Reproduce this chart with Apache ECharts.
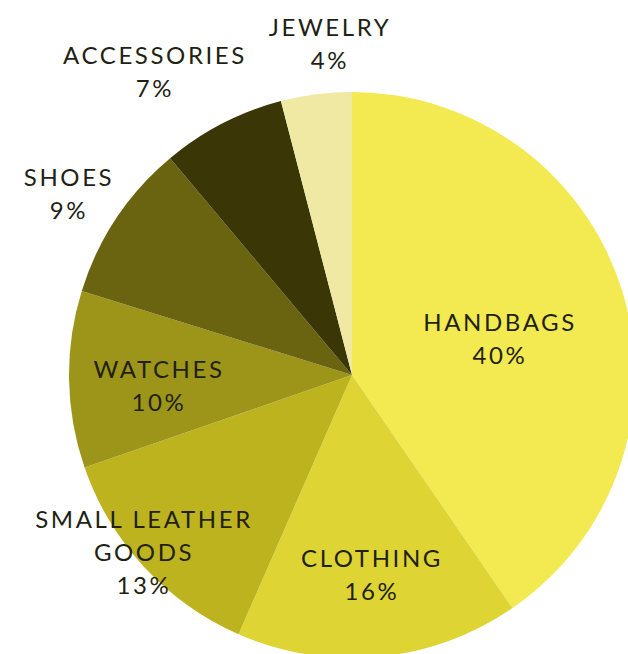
<!DOCTYPE html>
<html>
<head>
<meta charset="utf-8">
<script src="https://cdn.jsdelivr.net/npm/echarts@6/dist/echarts.min.js"></script>
<style>
  html, body { margin: 0; padding: 0; background: #ffffff; }
  #chart { width: 628px; height: 654px; }
  #chart svg text { letter-spacing: 2.6px; }
</style>
</head>
<body>
<div id="chart"></div>
<script>
// Sales share by product category
const categories = ['HANDBAGS', 'CLOTHING', 'SMALL LEATHER\nGOODS', 'WATCHES', 'SHOES', 'ACCESSORIES', 'JEWELRY'];
const shares = [40, 16, 13, 10, 9, 7, 4];
const sliceColors = ['#F2EA50', '#DED535', '#BDB31E', '#9C951A', '#6A6410', '#3A3606', '#EFE9A4'];

// Label anchor points (centre of each text block)
const labelSpots = [
  [500, 338], [372, 574], [144, 551], [159, 385],
  [69, 193], [155, 71], [330, 43]
];

const chart = echarts.init(document.getElementById('chart'), null, { renderer: 'svg' });

chart.setOption({
  animation: false,
  series: [{
    type: 'pie',
    center: [352, 375],
    radius: [0, 283],
    startAngle: 90,
    clockwise: true,
    silent: true,
    avoidLabelOverlap: false,
    data: categories.map((name, i) => ({
      name: name,
      value: shares[i],
      itemStyle: { color: sliceColors[i] }
    })),
    itemStyle: { borderWidth: 0 },
    label: {
      show: true,
      position: 'inside',
      formatter: '{b}\n{c}%',
      fontFamily: 'Lato',
      fontSize: 24,
      lineHeight: 33,
      color: '#221f14',
      align: 'center',
      overflow: 'none'
    },
    labelLine: { show: false },
    labelLayout: function (params) {
      const p = labelSpots[params.dataIndex];
      return { x: p[0], y: p[1], align: 'center', verticalAlign: 'middle', hideOverlap: false };
    }
  }]
});
</script>
</body>
</html>
